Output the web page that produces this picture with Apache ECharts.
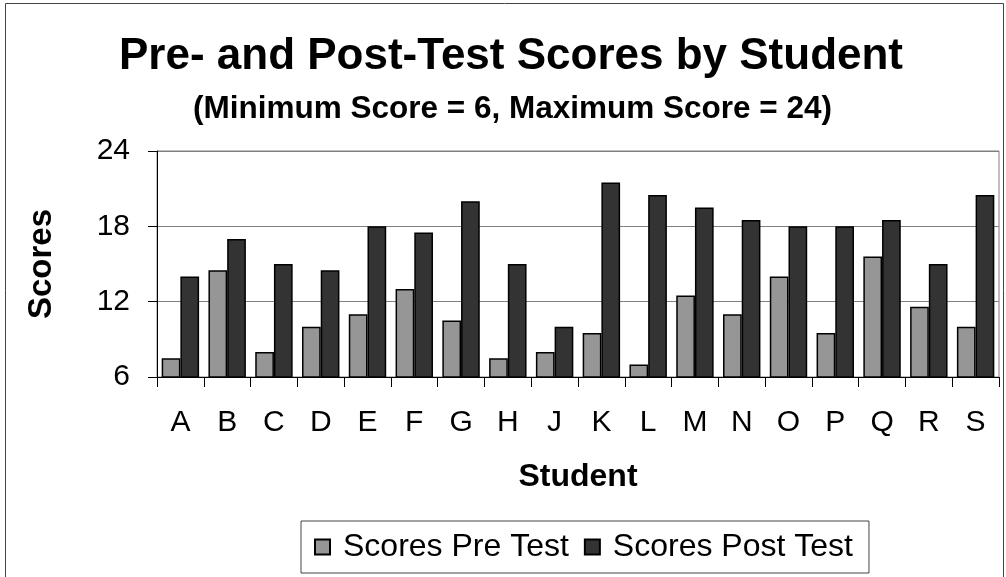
<!DOCTYPE html>
<html>
<head>
<meta charset="utf-8">
<script src="https://cdn.jsdelivr.net/npm/echarts@6/dist/echarts.min.js"></script>
<style>
html,body{margin:0;padding:0;background:#fff;}
#chart{width:1006px;height:577px;}
</style>
</head>
<body>
<div id="chart"></div>
<script>
const students = ['A','B','C','D','E','F','G','H','J','K','L','M','N','O','P','Q','R','S'];
const preTest  = [7.5, 14.5, 8, 10, 11, 13, 10.5, 7.5, 8, 9.5, 7, 12.5, 11, 14, 9.5, 15.6, 11.6, 10];
const postTest = [14, 17, 15, 14.5, 18, 17.5, 20, 15, 10, 21.5, 20.5, 19.5, 18.5, 18, 18, 18.5, 15, 20.5];
const yTicks = [6, 12, 18, 24];

const FONT = "'Liberation Sans', Arial, Helvetica, sans-serif";
const chart = echarts.init(document.getElementById('chart'), null, {renderer: 'canvas'});
chart.setOption({
  backgroundColor: '#fff',
  animation: false,
  title: [
    {text: 'Pre- and Post-Test Scores by Student', left: 119, top: 35, padding: 0,
     textStyle: {fontFamily: FONT, fontSize: 44, fontWeight: 'bold', color: '#000'}},
    {text: '(Minimum Score = 6, Maximum Score = 24)', left: 193, top: 93, padding: 0,
     textStyle: {fontFamily: FONT, fontSize: 31.5, fontWeight: 'bold', color: '#000'}}
  ],
  graphic: [
    {type: 'rect', shape: {x: 5.5, y: 3.5, width: 998, height: 620}, style: {fill: 'none', stroke: '#444', lineWidth: 1}, silent: true, z: -1}
  ],
  legend: {
    left: 301, top: 521,
    padding: [10, 16, 10, 13],
    itemWidth: 15, itemHeight: 15, itemGap: 15,
    borderColor: '#444', borderWidth: 1,
    icon: 'rect',
    textStyle: {fontFamily: FONT, fontSize: 32, color: '#000', padding: [0,0,0,8]},
    data: ['Scores Pre Test', 'Scores Post Test']
  },
  grid: {left: 157, right: 7, top: 151, bottom: 200, show: true, borderColor: '#808080', borderWidth: 1},
  xAxis: {
    type: 'category', data: students,
    name: 'Student', nameLocation: 'middle', nameGap: 84,
    nameTextStyle: {fontFamily: FONT, fontSize: 32, fontWeight: 'bold', color: '#000'},
    axisLine: {lineStyle: {color: '#000', width: 1}},
    axisTick: {show: true, length: 10, lineStyle: {color: '#000'}},
    axisLabel: {fontFamily: FONT, fontSize: 30, color: '#000', margin: 31, interval: 0},
    splitLine: {show: false}
  },
  yAxis: {
    type: 'value', min: yTicks[0], max: yTicks[yTicks.length-1], interval: 6,
    name: 'Scores', nameLocation: 'middle', nameGap: 99, nameRotate: 90,
    nameTextStyle: {fontFamily: FONT, fontSize: 33, fontWeight: 'bold', color: '#000'},
    axisLine: {show: true, lineStyle: {color: '#000', width: 1}},
    axisTick: {show: true, length: 9, lineStyle: {color: '#000'}},
    axisLabel: {fontFamily: FONT, fontSize: 30, color: '#000', margin: 27},
    splitLine: {show: true, lineStyle: {color: '#808080', width: 1}}
  },
  series: [
    {name: 'Scores Pre Test', type: 'bar', data: preTest, barGap: '0%', barCategoryGap: '20%',
     itemStyle: {color: '#969696', borderColor: '#000', borderWidth: 1.5}},
    {name: 'Scores Post Test', type: 'bar', data: postTest, barGap: '0%', barCategoryGap: '20%',
     itemStyle: {color: '#333333', borderColor: '#000', borderWidth: 1.5}}
  ]
});
</script>
</body>
</html>
